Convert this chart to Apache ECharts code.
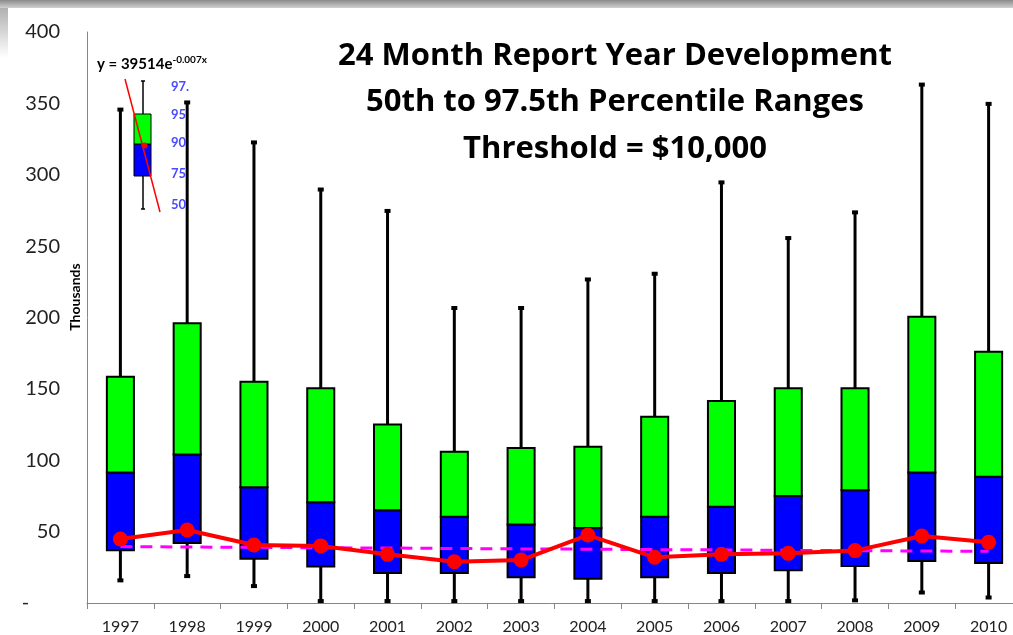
<!DOCTYPE html>
<html>
<head>
<meta charset="utf-8">
<script src="https://cdn.jsdelivr.net/npm/echarts@6/dist/echarts.min.js"></script>
<style>
  html, body { margin: 0; padding: 0; background: #fff; }
  #chart { width: 1013px; height: 635px; }
</style>
</head>
<body>
<div id="chart"></div>
<script>
// report years
const years = ['1997', '1998', '1999', '2000', '2001', '2002', '2003', '2004', '2005', '2006', '2007', '2008', '2009', '2010'];
// percentile values, thousands
const pct50 = [15.5, 18.5, 11.5, 1, 1, 1, 1, 1, 1, 1, 1, 1.5, 7, 3.5];
const pct75 = [37, 42, 31, 25.5, 21, 21, 18, 17, 18, 21, 23, 26, 29.5, 28];
const pct90 = [91.5, 104, 81, 70.5, 65, 60.5, 55, 52.5, 60.5, 67.5, 75, 79, 91.5, 88.5];
const pct95 = [158.5, 196, 155, 150.5, 125, 106, 108.5, 109.5, 130.5, 141.5, 150.5, 150.5, 200.5, 176];
const pct975 = [346, 351, 323, 290, 275, 207, 207, 227, 231, 295, 256, 274, 363.5, 350];
// red line and exponential trend line
const redLine = [44.8, 51.1, 40.6, 40, 34.1, 28.9, 30.1, 47.6, 32, 34.1, 34.8, 36.7, 46.9, 42.5];
const trend = [39.5, 39.2, 39.0, 38.7, 38.5, 38.2, 37.9, 37.7, 37.4, 37.2, 36.9, 36.7, 36.4, 36.2];
const yTicks = [0, 50, 100, 150, 200, 250, 300, 350, 400];

const chart = echarts.init(document.getElementById('chart'));

const boxData = years.map((y, i) => [i, pct50[i], pct75[i], pct90[i], pct95[i], pct975[i]]);

function renderBox(params, api) {
  const i = api.value(0);
  const lo = api.coord([i, api.value(1)]);
  const q75 = api.coord([i, api.value(2)]);
  const q90 = api.coord([i, api.value(3)]);
  const q95 = api.coord([i, api.value(4)]);
  const hi = api.coord([i, api.value(5)]);
  const w = api.size([1, 0])[0] * 0.405;
  const x = lo[0];
  return {
    type: 'group',
    children: [
      { type: 'line', shape: { x1: x, y1: hi[1], x2: x, y2: lo[1] }, style: { stroke: '#000', lineWidth: 3 } },
      { type: 'rect', shape: { x: x - 3, y: hi[1] - 1.5, width: 6, height: 4 }, style: { fill: '#000' } },
      { type: 'rect', shape: { x: x - 3, y: lo[1] - 2.5, width: 6, height: 4 }, style: { fill: '#000' } },
      { type: 'rect', shape: { x: x - w / 2, y: q90[1], width: w, height: q75[1] - q90[1] },
        style: { fill: '#0000FF', stroke: '#000', lineWidth: 2 } },
      { type: 'rect', shape: { x: x - w / 2, y: q95[1], width: w, height: q90[1] - q95[1] },
        style: { fill: '#00FF00', stroke: '#000', lineWidth: 2 } }
    ]
  };
}

const font = 'Lato';
const titleFont = 'Open Sans';
const titleLines = ['24 Month Report Year Development', '50th to 97.5th Percentile Ranges', 'Threshold = $10,000'];
const legendLabels = ['97.', '95', '90', '75', '50'];

const option = {
  animation: false,
  backgroundColor: '#fff',
  grid: { left: 87, right: -9, top: 32, bottom: 32, containLabel: false, outerBoundsMode: 'none' },
  xAxis: {
    type: 'category',
    data: years,
    boundaryGap: true,
    axisLine: { lineStyle: { color: '#868686', width: 1 } },
    axisTick: { show: true, length: 6, lineStyle: { color: '#868686' } },
    axisLabel: { color: '#222', fontFamily: font, fontSize: 16, margin: 16 }
  },
  yAxis: {
    type: 'value',
    min: 0, max: 400, interval: 50,
    axisLine: { show: true, lineStyle: { color: '#868686', width: 1 } },
    axisTick: { show: false },
    splitLine: { show: false },
    axisLabel: {
      color: '#222', fontFamily: font, fontSize: 20, margin: 27,
      formatter: v => (yTicks.indexOf(v) === 0 ? '-      ' : String(v))
    }
  },
  graphic: [
    { type: 'rect', shape: { x: 0, y: 0, width: 1013, height: 8 },
      style: { fill: new echarts.graphic.LinearGradient(0, 0, 0, 1, [{ offset: 0, color: '#8a8a8a' }, { offset: 1, color: '#d0d0d0' }]) }, z: 100 },
    { type: 'rect', shape: { x: 0, y: 8, width: 8, height: 50 },
      style: { fill: new echarts.graphic.LinearGradient(0, 0, 0, 1, [{ offset: 0, color: '#b0b0b0' }, { offset: 1, color: '#ffffff' }]) }, z: 100 },
    { type: 'text', x: 75, y: 297, rotation: Math.PI / 2, z: 50,
      style: { text: 'Thousands', fill: '#000', font: 'bold 14px ' + font, textAlign: 'center', textVerticalAlign: 'middle' } },
    ...titleLines.map((t, k) => ({
      type: 'text', x: 615, y: 56 + k * 46.5, z: 50,
      style: { text: t, fill: '#000', font: 'bold 31px ' + titleFont, textAlign: 'center', textVerticalAlign: 'middle' }
    })),
    // inset legend
    { type: 'line', shape: { x1: 143, y1: 81, x2: 143, y2: 209 }, style: { stroke: '#000', lineWidth: 1.5 }, z: 50 },
    { type: 'line', shape: { x1: 141, y1: 81, x2: 145, y2: 81 }, style: { stroke: '#000', lineWidth: 1.5 }, z: 50 },
    { type: 'line', shape: { x1: 141, y1: 209, x2: 145, y2: 209 }, style: { stroke: '#000', lineWidth: 1.5 }, z: 50 },
    { type: 'rect', shape: { x: 134, y: 144, width: 17, height: 32 }, style: { fill: '#0000FF', stroke: '#000', lineWidth: 1 }, z: 51 },
    { type: 'rect', shape: { x: 134, y: 114, width: 17, height: 30 }, style: { fill: '#00FF00', stroke: '#000', lineWidth: 1 }, z: 51 },
    { type: 'line', shape: { x1: 125, y1: 79, x2: 160, y2: 212 }, style: { stroke: '#FF0000', lineWidth: 1.5 }, z: 52 },
    { type: 'circle', shape: { cx: 144.5, cy: 145.5, r: 3 }, style: { fill: '#FF0000' }, z: 52 },
    ...legendLabels.map((t, k) => ({
      type: 'text', x: 171, y: [87, 115, 143, 174, 205][k], z: 52,
      style: { text: t, fill: '#4a4aff', font: 'bold 13px ' + font, textVerticalAlign: 'middle' }
    })),
    { type: 'text', x: 97, y: 64, z: 52,
      style: {
        text: '{b|y = 39514e}{s|-0.007x}',
        textVerticalAlign: 'middle',
        rich: {
          b: { fontFamily: font, fontWeight: 'bold', fontSize: 15, color: '#000' },
          s: { fontFamily: font, fontWeight: 'bold', fontSize: 10, color: '#000', verticalAlign: 'top', padding: [0, 0, 9, 0] }
        }
      } }
  ],
  series: [
    {
      type: 'custom',
      renderItem: renderBox,
      data: boxData,
      encode: { x: 0, y: [1, 2, 3, 4, 5] },
      z: 2
    },
    {
      type: 'line',
      data: trend,
      symbol: 'none',
      lineStyle: { color: '#FF00FF', width: 3, type: [12, 8] },
      z: 3
    },
    {
      type: 'line',
      data: redLine,
      symbol: 'circle',
      symbolSize: 15,
      itemStyle: { color: '#FF0000' },
      lineStyle: { color: '#FF0000', width: 4 },
      z: 4
    }
  ]
};

chart.setOption(option);
</script>
</body>
</html>
